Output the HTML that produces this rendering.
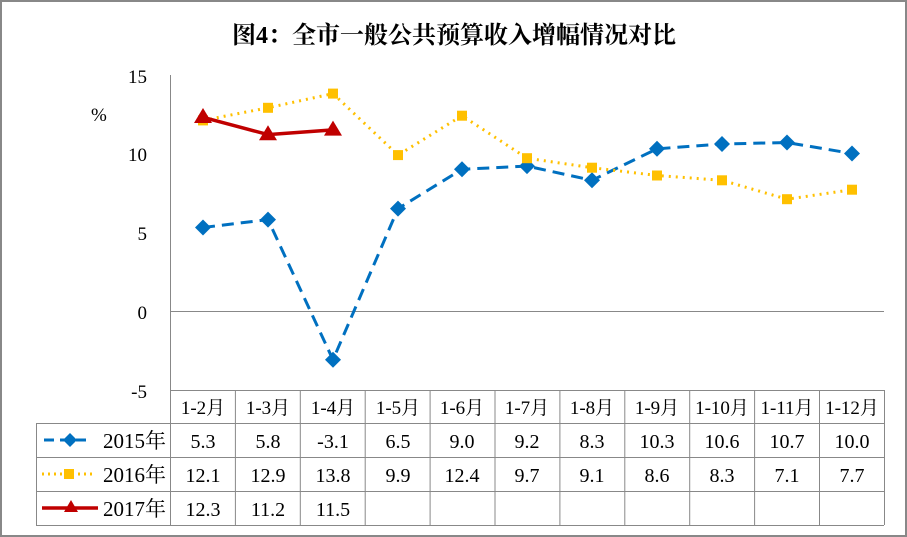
<!DOCTYPE html><html><head><meta charset="utf-8"><style>body{margin:0;background:#fff}svg{display:block}text{font-family:"Liberation Serif","Noto Serif CJK SC",serif}</style></head><body>
<svg width="907" height="537" viewBox="0 0 907 537" xmlns="http://www.w3.org/2000/svg">
<rect x="1" y="1" width="905" height="535" fill="#fff" stroke="#888" stroke-width="2"/>
<text x="454" y="43" font-size="24" font-weight="bold" text-anchor="middle">图4：全市一般公共预算收入增幅情况对比</text>
<g stroke="#888" stroke-width="1" fill="none">
<line x1="170.5" y1="75" x2="170.5" y2="525"/>
<line x1="170" y1="311.5" x2="884" y2="311.5"/>
<line x1="170" y1="390.5" x2="884.5" y2="390.5"/>
<line x1="884.5" y1="390" x2="884.5" y2="525"/>
<line x1="36" y1="423.5" x2="884" y2="423.5"/>
<line x1="36" y1="457.5" x2="884" y2="457.5"/>
<line x1="36" y1="491.5" x2="884" y2="491.5"/>
<line x1="36" y1="525.5" x2="884" y2="525.5"/>
<line x1="36.5" y1="423" x2="36.5" y2="525"/>
<line x1="235.4" y1="390" x2="235.4" y2="525"/><line x1="300.3" y1="390" x2="300.3" y2="525"/><line x1="365.2" y1="390" x2="365.2" y2="525"/><line x1="430.1" y1="390" x2="430.1" y2="525"/><line x1="495" y1="390" x2="495" y2="525"/><line x1="559.9" y1="390" x2="559.9" y2="525"/><line x1="624.8" y1="390" x2="624.8" y2="525"/><line x1="689.7" y1="390" x2="689.7" y2="525"/><line x1="754.6" y1="390" x2="754.6" y2="525"/><line x1="819.5" y1="390" x2="819.5" y2="525"/>
</g>
<g font-size="19" text-anchor="end">
<text x="147" y="83">15</text><text x="147" y="161">10</text><text x="147" y="240">5</text><text x="147" y="319">0</text><text x="147" y="398">-5</text>
</g>
<text x="91" y="121" font-size="19">%</text>
<g font-size="19" text-anchor="middle">
<g transform="translate(0,414)">
<text x="203" y="0">1-2月</text><text x="268" y="0">1-3月</text><text x="333" y="0">1-4月</text><text x="398" y="0">1-5月</text><text x="462" y="0">1-6月</text><text x="527" y="0">1-7月</text><text x="592" y="0">1-8月</text><text x="657" y="0">1-9月</text><text x="722" y="0">1-10月</text><text x="787" y="0">1-11月</text><text x="852" y="0">1-12月</text>
</g>
<g transform="translate(0,448)" font-size="20">
<text x="203">5.3</text><text x="268">5.8</text><text x="333">-3.1</text><text x="398">6.5</text><text x="462">9.0</text><text x="527">9.2</text><text x="592">8.3</text><text x="657">10.3</text><text x="722">10.6</text><text x="787">10.7</text><text x="852">10.0</text>
</g>
<g transform="translate(0,482)" font-size="20">
<text x="203">12.1</text><text x="268">12.9</text><text x="333">13.8</text><text x="398">9.9</text><text x="462">12.4</text><text x="527">9.7</text><text x="592">9.1</text><text x="657">8.6</text><text x="722">8.3</text><text x="787">7.1</text><text x="852">7.7</text>
</g>
<g transform="translate(0,516)" font-size="20">
<text x="203">12.3</text><text x="268">11.2</text><text x="333">11.5</text>
</g>
</g>
<g font-size="21" text-anchor="end">
<text x="166" y="448">2015年</text><text x="166" y="482">2016年</text><text x="166" y="516">2017年</text>
</g>
<line x1="44" y1="440" x2="86" y2="440" stroke="#0070C0" stroke-width="3" stroke-dasharray="10,6"/>
<path d="M70 433l7 7-7 7-7-7z" fill="#0070C0"/>
<line x1="42" y1="474" x2="95" y2="474" stroke="#FFC000" stroke-width="3" stroke-dasharray="2,4"/>
<rect x="64" y="469" width="10" height="10" fill="#FFC000"/>
<line x1="42" y1="508" x2="98" y2="508" stroke="#C00000" stroke-width="3.5"/>
<path d="M71 500l7 12h-14z" fill="#C00000"/>
<polyline fill="none" stroke="#0070C0" stroke-width="3" stroke-dasharray="12,7" points="203,227.5 268,219.6 333,359.8 398,208.6 462,169.3 527,166.1 592,180.3 657,148.8 722,144 787,142.5 852,153.5"/>
<g fill="#0070C0">
<path d="M203 219.5l8 8-8 8-8-8z"/><path d="M268 211.6l8 8-8 8-8-8z"/><path d="M333 351.8l8 8-8 8-8-8z"/><path d="M398 200.6l8 8-8 8-8-8z"/><path d="M462 161.3l8 8-8 8-8-8z"/><path d="M527 158.1l8 8-8 8-8-8z"/><path d="M592 172.3l8 8-8 8-8-8z"/><path d="M657 140.8l8 8-8 8-8-8z"/><path d="M722 136l8 8-8 8-8-8z"/><path d="M787 134.5l8 8-8 8-8-8z"/><path d="M852 145.5l8 8-8 8-8-8z"/>
</g>
<polyline fill="none" stroke="#FFC000" stroke-width="3" stroke-dasharray="2,5" points="203,120.4 268,107.8 333,93.6 398,155.1 462,115.7 527,158.2 592,167.7 657,175.5 722,180.3 787,199.2 852,189.7"/>
<g fill="#FFC000">
<rect x="198" y="115.4" width="10" height="10"/><rect x="263" y="102.8" width="10" height="10"/><rect x="328" y="88.6" width="10" height="10"/><rect x="393" y="150.1" width="10" height="10"/><rect x="457" y="110.7" width="10" height="10"/><rect x="522" y="153.2" width="10" height="10"/><rect x="587" y="162.7" width="10" height="10"/><rect x="652" y="170.5" width="10" height="10"/><rect x="717" y="175.3" width="10" height="10"/><rect x="782" y="194.2" width="10" height="10"/><rect x="847" y="184.7" width="10" height="10"/>
</g>
<polyline fill="none" stroke="#C00000" stroke-width="3.5" points="203,117.3 268,134.6 333,129.9"/>
<g fill="#C00000">
<path d="M203 108l9 15h-18z"/><path d="M268 125.3l9 15h-18z"/><path d="M333 120.6l9 15h-18z"/>
</g>
</svg></body></html>
